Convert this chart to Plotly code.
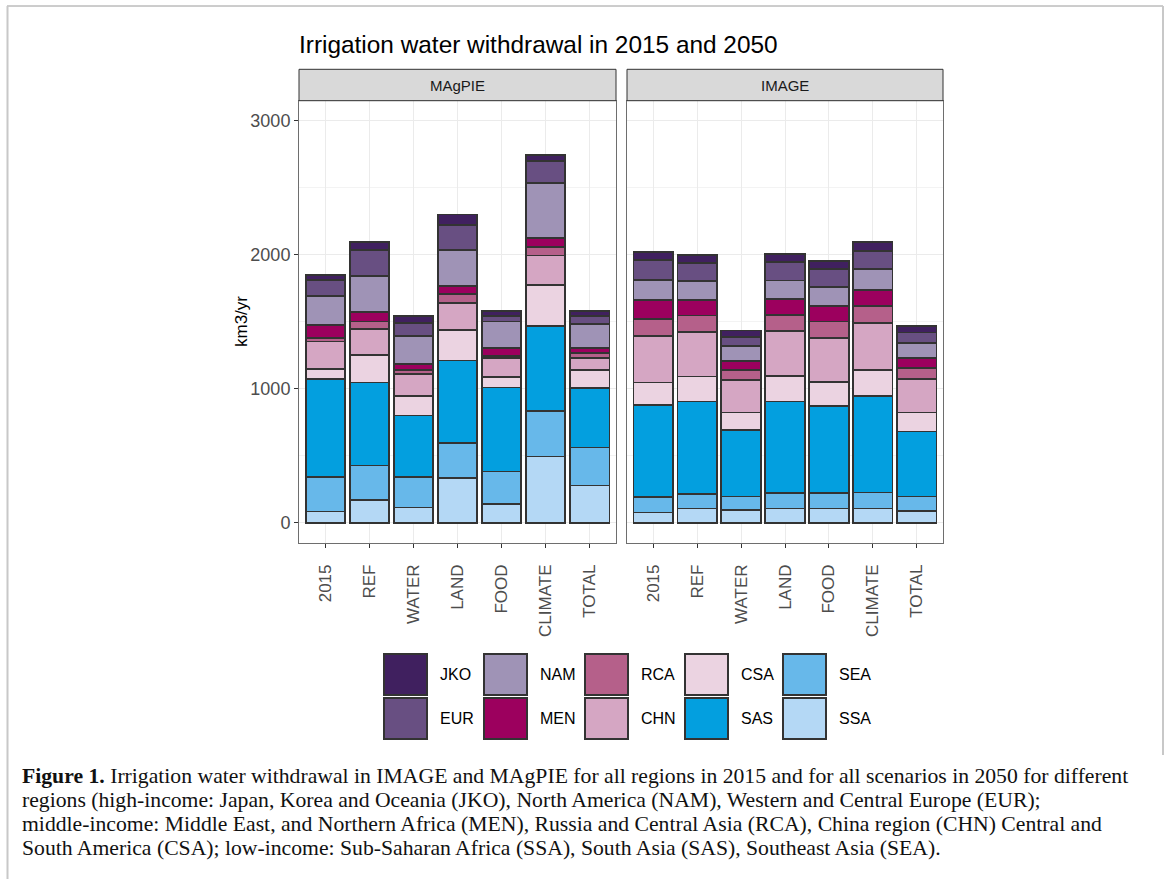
import plotly.graph_objects as go

W, H = 1170, 879

scenarios = ["2015", "REF", "WATER", "LAND", "FOOD", "CLIMATE", "TOTAL"]
models = ["MAgPIE", "IMAGE"]
# stacking order from top to bottom (legend order)
regions = ["JKO", "EUR", "NAM", "MEN", "RCA", "CHN", "CSA", "SAS", "SEA", "SSA"]
colors = ["#40205f", "#684f82", "#9f93b6", "#9c005e", "#b5608a",
          "#d5a6c3", "#ebd3e1", "#039fdf", "#67b8ea", "#b4d8f5"]

# segment sizes (km3/yr), order of scenarios
magpie_JKO = [33, 60, 55, 75, 42, 49, 37]
magpie_EUR = [124, 194, 99, 192, 38, 162, 57]
magpie_NAM = [216, 268, 207, 268, 199, 411, 180]
magpie_MEN = [95, 68, 42, 58, 57, 69, 37]
magpie_RCA = [25, 54, 33, 67, 17, 62, 37]
magpie_CHN = [204, 199, 161, 199, 142, 217, 87]
magpie_CSA = [77, 202, 147, 229, 77, 311, 137]
magpie_SAS = [731, 619, 460, 616, 627, 629, 443]
magpie_SEA = [256, 256, 227, 262, 244, 341, 283]
magpie_SSA = [85, 172, 114, 333, 139, 495, 279]

image_JKO = [64, 62, 49, 64, 57, 62, 45]
image_EUR = [145, 137, 70, 135, 134, 137, 79]
image_NAM = [149, 137, 112, 139, 140, 154, 112]
image_MEN = [144, 117, 62, 117, 117, 120, 75]
image_RCA = [124, 124, 75, 119, 124, 129, 82]
image_CHN = [349, 331, 244, 336, 326, 348, 249]
image_CSA = [166, 187, 129, 192, 179, 194, 141]
image_SAS = [689, 691, 497, 684, 652, 722, 485]
image_SEA = [115, 107, 100, 114, 114, 119, 107]
image_SSA = [77, 107, 97, 107, 107, 107, 90]

data = {
    "MAgPIE": {"JKO": magpie_JKO, "EUR": magpie_EUR, "NAM": magpie_NAM, "MEN": magpie_MEN,
               "RCA": magpie_RCA, "CHN": magpie_CHN, "CSA": magpie_CSA, "SAS": magpie_SAS,
               "SEA": magpie_SEA, "SSA": magpie_SSA},
    "IMAGE": {"JKO": image_JKO, "EUR": image_EUR, "NAM": image_NAM, "MEN": image_MEN,
              "RCA": image_RCA, "CHN": image_CHN, "CSA": image_CSA, "SAS": image_SAS,
              "SEA": image_SEA, "SSA": image_SSA},
}

y_ticks = [0, 1000, 2000, 3000]

FONT = "Liberation Sans, Arial, Helvetica, sans-serif"
SERIF = "Liberation Serif, Times New Roman, serif"


def px(x):
    return x / W


def py(y):
    return 1 - y / H


fig = go.Figure()

xaxes = ["x", "x2"]
for m, xa in zip(models, xaxes):
    for reg, col in zip(reversed(regions), reversed(colors)):
        fig.add_trace(go.Bar(
            x=scenarios, y=data[m][reg], name=reg, xaxis=xa, yaxis="y" if xa == "x" else "y2",
            marker=dict(color=col, line=dict(color="#333333", width=1.8)),
            showlegend=False, hovertemplate=m + " %{x} " + reg + ": %{y}<extra></extra>",
        ))

panel_top, panel_bot = 100.7, 542.7
dom_y = [py(panel_bot), py(panel_top)]
panels = [(299, 616), (627, 943)]

common_x = dict(
    type="category", range=[-0.6, 6.6], showgrid=True, gridcolor="#ebebeb", gridwidth=1.1,
    showline=True, mirror=True, linecolor="#6e6e6e", linewidth=1,
    ticks="outside", ticklen=4, tickcolor="#333333", tickwidth=1.2,
    tickangle=-90, tickfont=dict(family=FONT, size=17, color="#4d4d4d"),
    ticklabelstandoff=10,
    zeroline=False, fixedrange=True,
)
common_y = dict(
    range=[-148, 3148], showgrid=True, gridcolor="#ebebeb", gridwidth=1.1,
    tickvals=y_ticks, showline=True, mirror=True, linecolor="#6e6e6e", linewidth=1,
    zeroline=False, minor=dict(dtick=500, showgrid=True, gridcolor="#f3f3f3", gridwidth=0.6, tick0=500),
    domain=dom_y, fixedrange=True,
)

fig.update_layout(
    width=W, height=H, margin=dict(l=0, r=0, t=0, b=0),
    paper_bgcolor="white", plot_bgcolor="white",
    barmode="stack", bargap=0.1,
    xaxis=dict(common_x, domain=[px(panels[0][0]), px(panels[0][1])], anchor="y"),
    xaxis2=dict(common_x, domain=[px(panels[1][0]), px(panels[1][1])], anchor="y2"),
    yaxis=dict(common_y, anchor="x", ticks="outside", ticklen=4, tickcolor="#333333", tickwidth=1.2,
               tickfont=dict(family=FONT, size=18, color="#4d4d4d")),
    yaxis2=dict(common_y, anchor="x2", matches="y", showticklabels=False, ticks=""),
    font=dict(family=FONT),
)

shapes = []
annotations = []

# page frame
shapes.append(dict(type="line", xref="paper", yref="paper", x0=px(7), x1=px(1163), y0=py(6), y1=py(6),
                   line=dict(color="#9a9a9a", width=1)))
shapes.append(dict(type="line", xref="paper", yref="paper", x0=px(7.5), x1=px(7.5), y0=py(6), y1=py(879),
                   line=dict(color="#c8c8c8", width=2)))
shapes.append(dict(type="line", xref="paper", yref="paper", x0=px(1163), x1=px(1163), y0=py(6), y1=py(755),
                   line=dict(color="#c8c8c8", width=2)))

# strips
for m, (x0, x1) in zip(models, panels):
    shapes.append(dict(type="rect", xref="paper", yref="paper", x0=px(x0), x1=px(x1),
                       y0=py(panel_top), y1=py(69.3), fillcolor="#d9d9d9",
                       line=dict(color="#333333", width=1)))
    annotations.append(dict(text=m, xref="paper", yref="paper", x=px((x0 + x1) / 2), y=py(85),
                            showarrow=False, font=dict(family=FONT, size=15, color="#1a1a1a"),
                            xanchor="center", yanchor="middle"))

# title
annotations.append(dict(text="Irrigation water withdrawal in 2015 and 2050", xref="paper", yref="paper",
                        x=px(297), y=py(45), xanchor="left", yanchor="middle", showarrow=False,
                        font=dict(family=FONT, size=24.4, color="black")))
# y title
annotations.append(dict(text="km3/yr", xref="paper", yref="paper", x=px(241), y=py(322),
                        xanchor="center", yanchor="middle", textangle=-90, showarrow=False,
                        font=dict(family=FONT, size=17, color="black")))

# legend (2 rows x 5 columns, column-major)
col_x = [384, 484, 585, 685, 783]
row_y = [654, 698]
sw, sh = 43, 41
for i, (reg, col) in enumerate(zip(regions, colors)):
    c, r = divmod(i, 2)
    x0, y0 = col_x[c], row_y[r]
    shapes.append(dict(type="rect", xref="paper", yref="paper", x0=px(x0), x1=px(x0 + sw),
                       y0=py(y0 + sh), y1=py(y0), fillcolor=col,
                       line=dict(color="#333333", width=2)))
    annotations.append(dict(text=reg, xref="paper", yref="paper", x=px(x0 + sw + 11), y=py(y0 + sh / 2),
                            xanchor="left", yanchor="middle", showarrow=False,
                            font=dict(family=FONT, size=16, color="black")))

# caption
caption = [
    "<b>Figure 1.</b> Irrigation water withdrawal in IMAGE and MAgPIE for all regions in 2015 and for all scenarios in 2050 for different",
    "regions (high-income: Japan, Korea and Oceania (JKO), North America (NAM), Western and Central Europe (EUR);",
    "middle-income: Middle East, and Northern Africa (MEN), Russia and Central Asia (RCA), China region (CHN) Central and",
    "South America (CSA); low-income: Sub-Saharan Africa (SSA), South Asia (SAS), Southeast Asia (SEA).",
]
for k, line in enumerate(caption):
    annotations.append(dict(text=line, xref="paper", yref="paper", x=px(20), y=py(776 + 24 * k),
                            xanchor="left", yanchor="middle", showarrow=False, align="left",
                            font=dict(family=SERIF, size=21.7, color="#111111")))

fig.update_layout(shapes=shapes, annotations=annotations)
fig.write_html("out.html", config={"displayModeBar": False, "staticPlot": False},
               post_script="document.body.style.margin='0';document.body.style.overflow='hidden';")
